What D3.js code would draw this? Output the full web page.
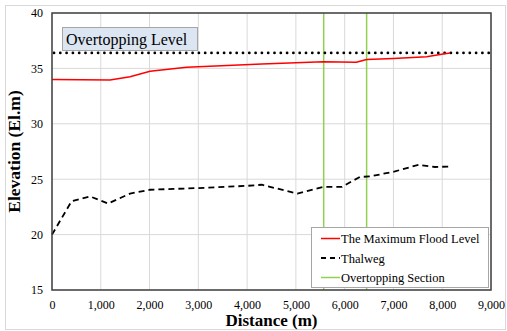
<!DOCTYPE html>
<html><head><meta charset="utf-8">
<script src="https://cdn.jsdelivr.net/npm/d3@7"></script>
<style>
body{margin:0;background:#fff}
svg{display:block}
svg text{font-family:'Liberation Serif','Times New Roman',serif}
</style>
</head><body>
<svg id="c" width="507" height="331"></svg>
<script>
const xTicks = [0,1000,2000,3000,4000,5000,6000,7000,8000,9000];
const yTicks = [15,20,25,30,35,40];
const floodX = [0,1190,1600,2010,2760,4300,5560,6240,6450,7000,7680,8020,8160];
const floodY = [34.0,33.95,34.25,34.75,35.1,35.4,35.6,35.55,35.8,35.9,36.05,36.3,36.4];
const thalX = [0,400,780,1150,1600,2010,3000,4000,4300,5030,5560,5940,6310,6520,7030,7510,7850,8160];
const thalY = [20.0,23.0,23.45,22.8,23.7,24.05,24.2,24.4,24.5,23.7,24.3,24.3,25.2,25.25,25.7,26.3,26.1,26.15];
const overtopSections = [5570,6450];
const overtopLevel = 36.4;
const legendLabels = ["The Maximum Flood Level","Thalweg","Overtopping Section"];

const svg = d3.select("#c");
const serifFont = "'Liberation Serif','Times New Roman',serif";
const L=52,R=491,T=13,B=290;
const x = d3.scaleLinear().domain([0,9000]).range([L,R]);
const y = d3.scaleLinear().domain([15,40]).range([B,T]);

svg.append("rect").attr("x",5.5).attr("y",5.5).attr("width",500).attr("height",324)
  .attr("fill","#fff").attr("stroke","#d9d9d9");

// grid
svg.append("g").selectAll("line").data(xTicks).join("line")
  .attr("x1",d=>x(d)).attr("x2",d=>x(d)).attr("y1",T).attr("y2",B)
  .attr("stroke","#d9d9d9").attr("stroke-width",1);
svg.append("g").selectAll("line").data(yTicks).join("line")
  .attr("x1",L).attr("x2",R).attr("y1",d=>y(d)).attr("y2",d=>y(d))
  .attr("stroke","#d9d9d9").attr("stroke-width",1);

// axes
const xa = svg.append("g").attr("transform",`translate(0,${B})`)
  .call(d3.axisBottom(x).tickValues(xTicks).tickSize(0).tickPadding(10).tickFormat(d3.format(",")));
const ya = svg.append("g").attr("transform",`translate(${L},0)`)
  .call(d3.axisLeft(y).tickValues(yTicks).tickSize(0).tickPadding(9));
[xa,ya].forEach(a=>{a.select(".domain").remove();
  a.attr("font-family",serifFont).attr("font-size",12);
  a.selectAll("text").style("font-family",serifFont).style("font-size","12px").attr("fill","#000");});

// overtopping sections
svg.append("g").selectAll("line").data(overtopSections).join("line")
  .attr("x1",d=>x(d)).attr("x2",d=>x(d)).attr("y1",T).attr("y2",B)
  .attr("stroke","#92d050").attr("stroke-width",1.5);

// overtopping level dotted
svg.append("line").attr("x1",x(0)+2).attr("x2",R-2).attr("y1",y(overtopLevel)).attr("y2",y(overtopLevel))
  .attr("stroke","#000").attr("stroke-width",2.8).attr("stroke-linecap","round")
  .attr("stroke-dasharray","0 6.3");

const line = d3.line().x(d=>x(d[0])).y(d=>y(d[1]));
svg.append("path").datum(thalX.map((v,i)=>[v,thalY[i]])).attr("d",line)
  .attr("fill","none").attr("stroke","#000").attr("stroke-width",1.8).attr("stroke-dasharray","6 4");
svg.append("path").datum(floodX.map((v,i)=>[v,floodY[i]])).attr("d",line)
  .attr("fill","none").attr("stroke","#ff0000").attr("stroke-width",1.5);

// plot frame
svg.append("rect").attr("x",L).attr("y",T).attr("width",R-L).attr("height",B-T)
  .attr("fill","none").attr("stroke","#404040").attr("stroke-width",1.5);

// label box
svg.append("rect").attr("x",62.5).attr("y",27.5).attr("width",135).attr("height",23)
  .attr("fill","#dce6f2").attr("stroke","#a6a6a6");
svg.append("text").attr("x",66).attr("y",45).text("Overtopping Level")
  .style("font-family",serifFont).style("font-size","16px").attr("fill","#000");

// titles
svg.append("text").attr("x",(L+R)/2).attr("y",326).attr("text-anchor","middle")
  .style("font-family",serifFont).style("font-size","17px").style("font-weight","bold").text("Distance (m)");
svg.append("text").attr("transform",`translate(20,${(T+B)/2}) rotate(-90)`).attr("text-anchor","middle")
  .style("font-family",serifFont).style("font-size","17.5px").style("font-weight","bold").text("Elevation (El.m)");

// legend
const lg = svg.append("g");
lg.append("rect").attr("x",311.5).attr("y",227.5).attr("width",177).attr("height",60)
  .attr("fill","#fff").attr("stroke","#a6a6a6");
const styles = [{c:"#ff0000",w:1.5,d:null},{c:"#000",w:1.8,d:"5 4"},{c:"#92d050",w:1.5,d:null}];
legendLabels.forEach((t,i)=>{
  const yy = 238.5 + i*19.5;
  lg.append("line").attr("x1",321).attr("x2",340).attr("y1",yy).attr("y2",yy)
    .attr("stroke",styles[i].c).attr("stroke-width",styles[i].w).attr("stroke-dasharray",styles[i].d);
  lg.append("text").attr("x",341).attr("y",yy+4.5).text(t)
    .style("font-family",serifFont).style("font-size","12.5px").attr("fill","#000");
});
</script>
</body></html>
